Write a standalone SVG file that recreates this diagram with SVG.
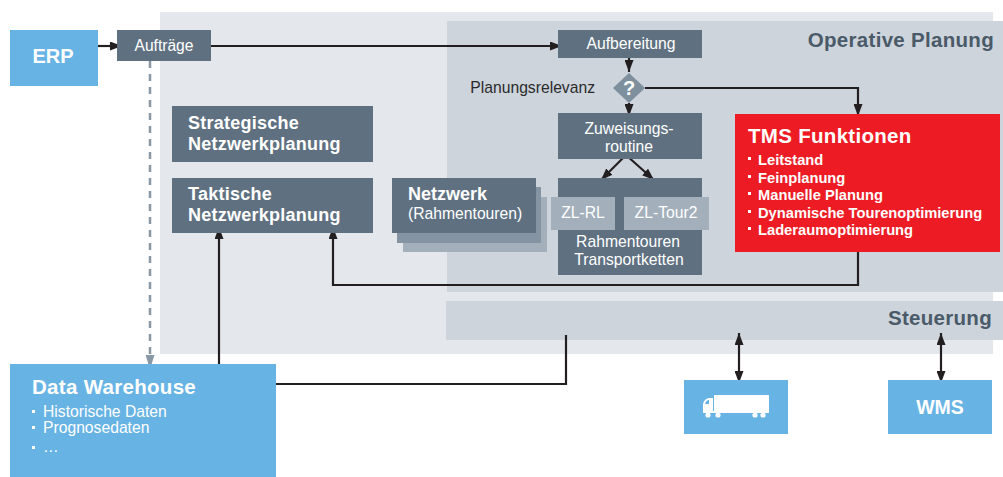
<svg xmlns="http://www.w3.org/2000/svg" width="1003" height="477" viewBox="0 0 1003 477">
<style>
  text { font-family: "Liberation Sans", Arial, sans-serif; }
  .slate { fill: #5f7181; }
  .blue { fill: #67b3e4; }
  .zl { fill: #a3afbb; }
  .w { fill: #ffffff; }
  .reg { font-size: 15.7px; }
  .hb { font-size: 18px; font-weight: bold; letter-spacing: 0.25px; }
  .big { font-size: 20.5px; font-weight: bold; letter-spacing: 0.3px; }
  .bul { font-size: 14.7px; font-weight: bold; }
  .title { fill: #4a5a68; }
  .mid { text-anchor: middle; }
  .end { text-anchor: end; }
  .conn { fill: none; stroke: #231f20; stroke-width: 2.2; }
</style>
<defs>
  <marker id="arr" viewBox="0 0 12 9" refX="12" refY="4.5" markerWidth="12" markerHeight="9" markerUnits="userSpaceOnUse" orient="auto-start-reverse">
    <path d="M0,0 L12,4.5 L0,9 Z" fill="#231f20"/>
  </marker>
  <marker id="arrg" viewBox="0 0 14 9" refX="14" refY="4.5" markerWidth="14" markerHeight="9" markerUnits="userSpaceOnUse" orient="auto">
    <path d="M0,0 L14,4.5 L0,9 Z" fill="#8a97a4"/>
  </marker>
</defs>

<g id="panels">
  <rect x="160" y="12" width="833" height="342" fill="#e4e8ed"/>
  <rect x="447" y="21" width="556" height="271" fill="#cdd4dc"/>
  <rect x="446" y="301" width="557" height="39" fill="#cdd4dc"/>
  <text class="big title end" x="994" y="47">Operative Planung</text>
  <text class="big title end" x="992" y="325">Steuerung</text>
</g>

<g id="connectors">
  <line class="conn" x1="97" y1="46" x2="122" y2="46" marker-end="url(#arr)"/>
  <line class="conn" x1="211" y1="46" x2="562" y2="46" marker-end="url(#arr)"/>
  <line class="conn" x1="629" y1="58" x2="629" y2="72" marker-end="url(#arr)"/>
  <line class="conn" x1="629" y1="103" x2="629" y2="116" marker-end="url(#arr)"/>
  <polyline class="conn" points="645,88 858,88 858,116" marker-end="url(#arr)"/>
  <line class="conn" x1="626" y1="155" x2="601" y2="180" marker-end="url(#arr)"/>
  <line class="conn" x1="626" y1="155" x2="654" y2="180" marker-end="url(#arr)"/>
  <polyline class="conn" points="858,252 858,285 333,285 333,227" marker-end="url(#arr)"/>
  <line class="conn" x1="219" y1="364" x2="219" y2="227" marker-end="url(#arr)"/>
  <line x1="150" y1="61" x2="150" y2="369" fill="none" stroke="#8a97a4" stroke-width="2.5" stroke-dasharray="7,6" marker-end="url(#arrg)"/>
  <polyline class="conn" points="276,384 566,384 566,335"/>
  <line class="conn" x1="739" y1="333" x2="739" y2="383" marker-start="url(#arr)" marker-end="url(#arr)"/>
  <line class="conn" x1="941" y1="333" x2="941" y2="383" marker-start="url(#arr)" marker-end="url(#arr)"/>
</g>

<g id="erp">
  <rect class="blue" x="10" y="30" width="88" height="56"/>
  <text class="w mid" x="53" y="63" font-size="20px" font-weight="bold">ERP</text>
</g>

<g id="auftraege">
  <rect class="slate" x="117" y="30" width="94" height="31"/>
  <text class="w mid" x="164" y="51" font-size="15.6px">Aufträge</text>
</g>

<g id="strategische">
  <rect class="slate" x="172" y="106" width="201" height="56"/>
  <text class="w hb" x="188" y="129">Strategische</text>
  <text class="w hb" x="188" y="150">Netzwerkplanung</text>
</g>

<g id="taktische">
  <rect class="slate" x="172" y="178" width="201" height="55"/>
  <text class="w hb" x="188" y="200">Taktische</text>
  <text class="w hb" x="188" y="221">Netzwerkplanung</text>
</g>

<g id="netzwerk">
  <rect x="403" y="197" width="144" height="55" fill="#a3afbb"/>
  <rect x="397" y="187" width="144" height="56" fill="#8494a2"/>
  <rect class="slate" x="392" y="178" width="144" height="55"/>
  <text class="w" x="408" y="200" font-size="18px" font-weight="bold">Netzwerk</text>
  <text class="w" x="408" y="219" font-size="15.7px">(Rahmentouren)</text>
</g>

<g id="aufbereitung">
  <rect class="slate" x="558" y="30" width="144" height="28"/>
  <text class="w mid reg" x="631" y="49">Aufbereitung</text>
</g>

<g id="planungsrelevanz">
  <polygon points="629,73 645,88 629,103 613,88" fill="#7e8f9d"/>
  <text class="w mid" x="629" y="95" font-size="20px" font-weight="bold">?</text>
  <text class="reg end" x="595" y="93" fill="#2b2b2b">Planungsrelevanz</text>
</g>

<g id="zuweisung">
  <rect class="slate" x="558" y="113" width="144" height="46"/>
  <text class="w mid reg" x="629" y="134">Zuweisungs-</text>
  <text class="w mid reg" x="629" y="152">routine</text>
</g>

<g id="rahmentouren">
  <rect class="slate" x="558" y="178" width="144" height="97"/>
  <text class="w mid reg" x="628" y="247">Rahmentouren</text>
  <text class="w mid reg" x="629" y="265">Transportketten</text>
</g>

<g id="zl-rl">
  <rect class="zl" x="551" y="197" width="64" height="33"/>
  <text class="w mid reg" x="583" y="218">ZL-RL</text>
</g>

<g id="zl-tour2">
  <rect class="zl" x="624" y="197" width="85" height="33"/>
  <text class="w mid reg" x="666" y="218">ZL-Tour2</text>
</g>

<g id="tms">
  <rect x="735" y="114" width="265" height="138" fill="#ed1c24"/>
  <text class="w big" x="748" y="143">TMS Funktionen</text>
  <rect class="w" x="748" y="157" width="3" height="3"/>
  <rect class="w" x="748" y="175" width="3" height="3"/>
  <rect class="w" x="748" y="192" width="3" height="3"/>
  <rect class="w" x="748" y="210" width="3" height="3"/>
  <rect class="w" x="748" y="227" width="3" height="3"/>
  <text class="w bul" x="758" y="165">Leitstand</text>
  <text class="w bul" x="758" y="183">Feinplanung</text>
  <text class="w bul" x="758" y="200">Manuelle Planung</text>
  <text class="w bul" x="758" y="218">Dynamische Tourenoptimierung</text>
  <text class="w bul" x="758" y="235">Laderaumoptimierung</text>
</g>

<g id="datawarehouse">
  <rect class="blue" x="10" y="364" width="266" height="113"/>
  <text class="w big" x="32" y="394">Data Warehouse</text>
  <rect class="w" x="32" y="410" width="3" height="3"/>
  <rect class="w" x="32" y="426" width="3" height="3"/>
  <rect class="w" x="32" y="446" width="3" height="3"/>
  <text class="w reg" x="43" y="417">Historische Daten</text>
  <text class="w reg" x="43" y="433">Prognosedaten</text>
  <text class="w reg" x="43" y="452">…</text>
</g>

<g id="truck">
  <rect class="blue" x="684" y="380" width="104" height="54"/>
  <rect class="w" x="714" y="395" width="55" height="17"/>
  <path class="w" d="M703,413 L703,404 Q704,399 709,398 L713,398 L713,413 Z"/>
  <path d="M705,404 Q706,400 709,400 L709,404 Z" fill="#67b3e4"/>
  <rect class="w" x="703" y="411" width="66" height="2"/>
  <circle class="w" cx="708" cy="415" r="2.6"/>
  <circle class="w" cx="718" cy="415" r="2.6"/>
  <circle class="w" cx="755" cy="415" r="2.6"/>
  <circle class="w" cx="763" cy="415" r="2.6"/>
</g>

<g id="wms">
  <rect class="blue" x="888" y="380" width="104" height="54"/>
  <text class="w mid" x="940" y="414" font-size="19.5px" font-weight="bold">WMS</text>
</g>
</svg>
